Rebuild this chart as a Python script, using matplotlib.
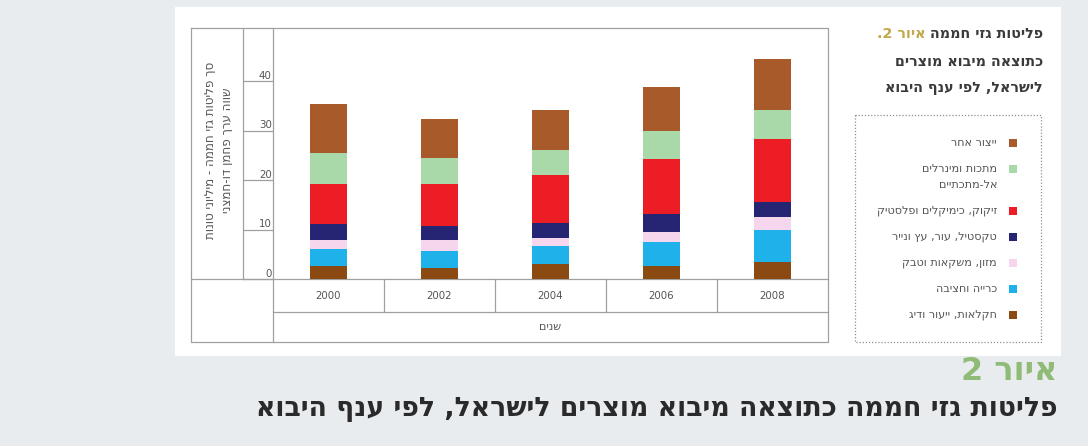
import re
import numpy as np
import matplotlib
matplotlib.use("Agg")
import matplotlib.pyplot as plt
import matplotlib.transforms as mtransforms
from matplotlib.patches import Rectangle

# data (Mt CO2e per import branch)
years = ["2000", "2002", "2004", "2006", "2008"]
agriculture = [2.7, 2.2, 3.1, 2.6, 3.4]
mining = [3.4, 3.5, 3.6, 5.0, 6.5]
food = [1.8, 2.2, 1.6, 1.9, 2.7]
textile = [3.2, 2.8, 3.1, 3.7, 3.0]
chemicals = [8.2, 8.6, 9.6, 11.0, 12.7]
minerals = [6.1, 5.1, 5.0, 5.7, 5.8]
other = [9.9, 7.9, 8.1, 8.9, 10.4]

series_labels = [
    "חקלאות, ייעור ודיג",
    "כרייה וחציבה",
    "מזון, משקאות וטבק",
    "טקסטיל, עור, עץ ונייר",
    "זיקוק, כימיקלים ופלסטיק",
    "מתכות ומינרלים\nאל-מתכתיים",
    "ייצור אחר",
]
series_colors = ["#8b4a12", "#1eb1ea", "#f6d6ec", "#252574",
                 "#ec1d25", "#a9d8a9", "#a95a2b"]
yticks = [0, 10, 20, 30, 40]

ylabel_lines = ["סך פליטות גזי חממה - מיליוני טונות", "שווה ערך פחמן דו-חמצני"]
xlabel = "שנים"
title_fig = "איור 2."
title_lines = ["פליטות גזי חממה", "כתוצאה מיבוא מוצרים", "לישראל, לפי ענף היבוא"]
caption_head = "איור 2"
caption = "פליטות גזי חממה כתוצאה מיבוא מוצרים לישראל, לפי ענף היבוא"


def rtl(s):
    # visual order for right-to-left text, digits kept left-to-right
    return "\n".join(re.sub(r"\d+", lambda m: m.group(0)[::-1], line[::-1])
                     for line in s.split("\n"))


W, H = 1088, 446
DPI = 100
GRID = "#a0a0a0"
TXT = "#555555"

plt.rcParams["font.family"] = ["DejaVu Sans"]

fig = plt.figure(figsize=(W / DPI, H / DPI), dpi=DPI, facecolor="#e9ecef")

# background layer in pixel coordinates
bg = fig.add_axes([0, 0, 1, 1], zorder=0)
bg.set_xlim(0, W)
bg.set_ylim(H, 0)
bg.axis("off")
bg.add_patch(Rectangle((175, 7), 886, 349, facecolor="white", edgecolor="none"))

# chart frame
x_out, x_lab, x_ax, x_end = 191, 243, 273, 828
y_top, y_base, y_row, y_bot = 28, 279.3, 312, 342
frame = dict(color=GRID, lw=0.9)
bg.plot([x_out, x_end, x_end, x_out, x_out], [y_top, y_top, y_bot, y_bot, y_top], **frame)
bg.plot([x_out, x_end], [y_base, y_base], **frame)
bg.plot([x_ax, x_end], [y_row, y_row], **frame)
bg.plot([x_lab, x_lab], [y_top, y_base], **frame)
bg.plot([x_ax, x_ax], [y_top, y_bot], **frame)
cell = (x_end - x_ax) / len(years)
for i in range(1, len(years)):
    bg.plot([x_ax + i * cell] * 2, [y_base, y_row], **frame)

bg.text(219, 150, rtl("\n".join(ylabel_lines)), rotation=90,
        ha="center", va="center", multialignment="center", fontsize=8.6,
        color=TXT, linespacing=1.45)
bg.text((x_ax + x_end) / 2, (y_row + y_bot) / 2, rtl(xlabel), ha="center",
        va="center", fontsize=8, color=TXT)

# bars
ax = fig.add_axes([x_ax / W, 1 - y_base / H, (x_end - x_ax) / W, (y_base - y_top) / H],
                  zorder=2)
ax.patch.set_visible(False)
for sp in ax.spines.values():
    sp.set_visible(False)

data = np.array([agriculture, mining, food, textile, chemicals, minerals, other])
x = np.arange(len(years))
bottom = np.zeros(len(years))
for vals, col in zip(data, series_colors):
    ax.bar(x, vals, width=0.34, bottom=bottom, color=col, edgecolor="none")
    bottom += vals

ax.set_xlim(-0.5, len(years) - 0.5)
ax.set_ylim(0, 50.7)
ax.set_xticks(x, years)
ax.set_yticks(yticks, [str(v) for v in yticks])
ax.tick_params(axis="x", length=0, pad=8.5, labelsize=7.4, labelcolor=TXT)
ax.tick_params(axis="y", length=21.6, width=0.9, color=GRID, direction="out",
               pad=-20.6, labelsize=7.4, labelcolor=TXT)
shift = mtransforms.ScaledTranslation(0, 6.5 / DPI, fig.dpi_scale_trans)
for lab in ax.get_yticklabels():
    lab.set_transform(lab.get_transform() + shift)

# title block at the right
t1 = bg.text(1043, 34, rtl(title_lines[0]), ha="right", va="center",
             fontsize=10.3, fontweight="bold", color="#3a3a3a")
bg.annotate(rtl(title_fig), xy=(0, 0.5), xycoords=t1, xytext=(-3, 0),
            textcoords="offset points", ha="right", va="center", fontsize=10.3,
            fontweight="bold", color="#c2a84a")
for yy, line in zip([62, 88], title_lines[1:]):
    bg.text(1043, yy, rtl(line), ha="right", va="center", fontsize=10.3,
            fontweight="bold", color="#3a3a3a")

# legend box
bg.add_patch(Rectangle((855, 115), 186, 227, facecolor="none", edgecolor="#909090",
                       lw=0.9, linestyle=(0, (1, 1.5))))
yy = 143
for lab, col in zip(series_labels[::-1], series_colors[::-1]):
    bg.add_patch(Rectangle((1009, yy - 4), 8, 8, facecolor=col, edgecolor="none"))
    for k, part in enumerate(lab.split("\n")):
        bg.text(997, yy + 15.5 * k, rtl(part), ha="right", va="center",
                fontsize=8.1, color=TXT)
    yy += 26 + 15.5 * lab.count("\n")

# caption under the picture
bg.text(1057, 372, rtl(caption_head), ha="right", va="center", fontsize=23,
        fontweight="bold", color="#8fbb77")
bg.text(1058, 409, rtl(caption), ha="right", va="center", fontsize=19.3,
        fontweight="bold", color="#2a2a2a")

fig.savefig("out.png", dpi=DPI, facecolor=fig.get_facecolor())
